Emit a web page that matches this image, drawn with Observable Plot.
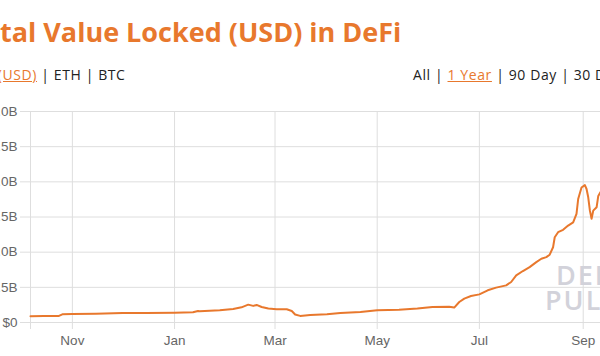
<!DOCTYPE html>
<html>
<head>
<meta charset="utf-8">
<script src="https://cdn.jsdelivr.net/npm/d3@7"></script>
<script src="https://cdn.jsdelivr.net/npm/@observablehq/plot@0.6"></script>
<style>
  html, body { margin: 0; padding: 0; background: #fff; }
  body { width: 600px; height: 356px; overflow: hidden; position: relative; }
  #title { position: absolute; top: 17px; white-space: nowrap; font: 700 27px/30px "Open Sans", sans-serif; color: #e8782d; }
  .row { position: absolute; top: 66px; white-space: nowrap; font: 400 14px/17px "Open Sans", sans-serif; letter-spacing: 0.6px; color: #222; }
  .row .on { color: #e8782d; text-decoration: underline; }
  #chart { position: absolute; left: 0; top: 100px; }
  #wm { position: absolute; left: 545px; top: 262px; white-space: nowrap; font: 600 27px/25px "Open Sans", sans-serif; color: #d2d2da; letter-spacing: 2px; }
  #wm span { margin-left: 11px; }
</style>
</head>
<body>
<div id="title">Total Value Locked (USD) in DeFi</div>
<div class="row" id="units"><span class="on" id="unitOn">TVL (USD)</span> | ETH | BTC</div>
<div class="row" id="ranges" style="left:413px">All | <span class="on">1 Year</span> | 90 Day | 30 Day</div>
<div id="chart"></div>
<div id="wm"><span>DEFI</span><br>PULSE</div>
<script>
// ---- data (TVL in billions USD) ----
const dates = [
  "2019-10-07","2019-10-15","2019-10-24","2019-10-26","2019-11-01","2019-11-15","2019-12-01","2019-12-15",
  "2020-01-01","2020-01-12","2020-01-15","2020-01-16","2020-01-28","2020-02-05","2020-02-10","2020-02-14",
  "2020-02-17","2020-02-19","2020-02-22","2020-02-26","2020-03-02","2020-03-08","2020-03-11","2020-03-13",
  "2020-03-16","2020-03-22","2020-04-01","2020-04-09","2020-04-21","2020-05-01","2020-05-14","2020-05-25",
  "2020-06-03","2020-06-13","2020-06-16","2020-06-19","2020-06-22","2020-06-26","2020-07-01","2020-07-06",
  "2020-07-11","2020-07-17","2020-07-20","2020-07-23","2020-07-27","2020-07-31","2020-08-04","2020-08-07",
  "2020-08-10","2020-08-12","2020-08-14","2020-08-15","2020-08-17","2020-08-20","2020-08-23","2020-08-26",
  "2020-08-28","2020-08-29","2020-08-31","2020-09-02","2020-09-03","2020-09-04","2020-09-05","2020-09-06",
  "2020-09-07","2020-09-09","2020-09-10","2020-09-12"
];
const tvl = [
  0.45,0.46,0.47,0.58,0.60,0.63,0.67,0.68,
  0.70,0.73,0.82,0.80,0.87,0.96,1.08,1.27,
  1.18,1.25,1.10,0.99,0.94,0.94,0.82,0.57,
  0.47,0.54,0.59,0.68,0.75,0.87,0.90,0.99,
  1.10,1.12,1.06,1.46,1.70,1.88,2.00,2.29,
  2.48,2.64,2.88,3.35,3.66,3.94,4.29,4.53,
  4.65,4.82,5.35,6.06,6.42,6.59,6.89,7.12,
  7.72,8.78,9.60,9.77,9.49,8.90,7.95,7.37,
  7.95,8.19,9.00,9.40
];
const yTicks = [0, 2.5, 5, 7.5, 10, 12.5, 15];
const xTickDates = ["2019-11-01","2020-01-01","2020-03-01","2020-05-01","2020-07-01","2020-09-01"];
const xStart = "2019-10-07", xEnd = "2020-10-07";

const data = dates.map((d, i) => ({date: new Date(d), tvl: tvl[i]}));
const xTicks = xTickDates.map(d => new Date(d));
const fmtY = v => v === 0 ? "$0" : "$" + v.toFixed(1) + "B";
const grid = "#dedede";

const chart = Plot.plot({
  width: 660, height: 256,
  marginLeft: 30, marginRight: 17, marginTop: 11, marginBottom: 34,
  x: {type: "utc", domain: [new Date(xStart), new Date(xEnd)]},
  y: {domain: [0, 15]},
  style: {fontFamily: "Arial, 'Liberation Sans', sans-serif", fontSize: "13.5px", color: "#666",
          overflow: "visible", maxWidth: "none", background: "transparent"},
  marks: [
    Plot.gridY(yTicks, {stroke: grid, strokeOpacity: 1}),
    Plot.gridX(xTicks, {stroke: grid, strokeOpacity: 1}),
    Plot.ruleX([new Date(xStart)], {stroke: grid, insetBottom: -7}),
    Plot.axisY(yTicks, {tickSize: 10, tickPadding: 3, stroke: grid, fill: "#666", tickFormat: fmtY, label: null}),
    Plot.axisX(xTicks, {tickSize: 7, tickPadding: 6, stroke: grid, fill: "#666", tickFormat: d3.utcFormat("%b"), label: null}),
    Plot.lineY(data, {x: "date", y: "tvl", stroke: "#e8782d", strokeWidth: 2})
  ]
});
document.getElementById("chart").appendChild(chart);

// shift header texts so they are cropped like the reference
const ctx = document.createElement("canvas").getContext("2d");
ctx.font = "700 27px 'Open Sans'";
document.getElementById("title").style.left = (-ctx.measureText("To").width) + "px";
ctx.font = "400 14px 'Open Sans'";
const unitW = ctx.measureText("TVL (USD)").width + 9 * 0.6;
document.getElementById("units").style.left = (37 - unitW) + "px";
</script>
</body>
</html>
